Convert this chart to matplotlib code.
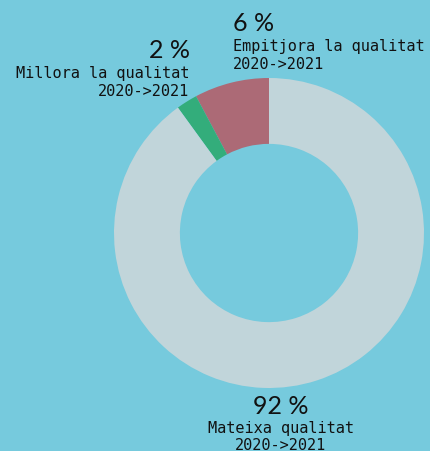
import matplotlib
matplotlib.use('Agg')
import matplotlib.pyplot as plt

categories = ['Empitjora la qualitat', 'Millora la qualitat', 'Mateixa qualitat']
sizes = [7.8, 2.2, 90.0]
pct_labels = ['6 %', '2 %', '92 %']
period = '2020->2021'
colors = ['#ac6a76', '#33ad7b', '#c1d5da']
bg = '#76cadd'

W, H = 430, 452
cx, cy, R = 269, 234, 155


def px(x, y):
    """pixel (from top-left) -> data coords"""
    return (x - cx) / R, (cy - y) / R


fig = plt.figure(figsize=(W / 100, H / 100), dpi=100, facecolor=bg)
ax = fig.add_axes([0, 0, 1, 1])
ax.set_facecolor(bg)
ax.pie(sizes, colors=colors, startangle=90, counterclock=True, radius=1,
       wedgeprops=dict(width=0.425, linewidth=0))
ax.set_xlim(-cx / R, (W - cx) / R)
ax.set_ylim(-(H - cy) / R, cy / R)
ax.set_aspect('equal')
ax.axis('off')

num_kw = dict(fontsize=18, family=['Lato', 'DejaVu Sans'], fontweight='normal',
              color='#111111', va='center')
lab_kw = dict(fontsize=11, family='DejaVu Sans Mono', color='#111111', va='center')

# Empitjora
ax.text(*px(233, 24), pct_labels[0], ha='left', **num_kw)
ax.text(*px(233, 47), categories[0], ha='left', **lab_kw)
ax.text(*px(233, 65), period, ha='left', **lab_kw)

# Millora
ax.text(*px(190, 51), pct_labels[1], ha='right', **num_kw)
ax.text(*px(189, 74), categories[1], ha='right', **lab_kw)
ax.text(*px(189, 92), period, ha='right', **lab_kw)

# Mateixa
ax.text(*px(281, 407), pct_labels[2], ha='center', **num_kw)
ax.text(*px(281, 429), categories[2], ha='center', **lab_kw)
ax.text(*px(281, 446), period, ha='center', **lab_kw)

plt.savefig('out.png', dpi=100, facecolor=bg)
plt.close()
